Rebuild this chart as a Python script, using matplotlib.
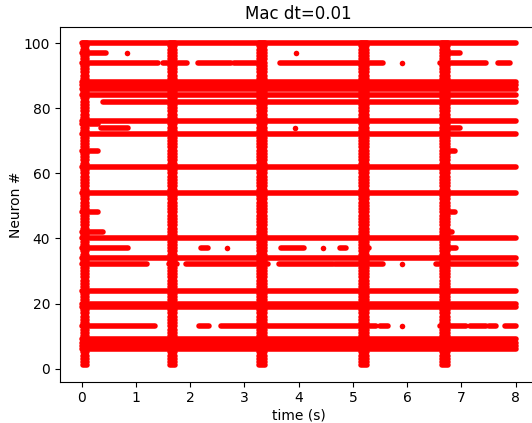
import matplotlib
matplotlib.use("Agg")
import numpy as np
from matplotlib import pyplot as plt

# neurons that fire all the way through the run (t = 0 .. 8 s)
full_rows = [100, 88, 87, 86, 84, 76, 72, 62, 54, 40, 34, 24, 20, 19, 9, 8, 7, 6]

# population bursts: every neuron 1..100 fires inside these windows (s)
burst_start = [0.03, 1.62, 3.26, 5.14, 6.65]
burst_end = [0.10, 1.72, 3.37, 5.25, 6.75]

# partial firing stretches: neuron, start (s), end (s)
seg_neuron = [97, 97,
              94, 94, 94, 94, 94, 94, 94,
              82,
              75, 74, 74,
              67, 67, 48, 48, 42, 42,
              37, 37, 37, 37, 37, 37,
              32, 32, 32, 32, 32, 32,
              13, 13, 13, 13, 13, 13, 13, 13]
seg_start = [0.0, 6.72,
             0.0, 1.5, 2.15, 2.8, 3.65, 6.6, 7.67,
             0.39,
             0.0, 0.35, 6.72,
             0.0, 6.72, 0.0, 6.72, 0.0, 6.72,
             0.0, 2.2, 3.67, 4.76, 5.2, 6.72,
             0.0, 1.92, 3.63, 4.66, 6.53, 1.6,
             0.0, 2.16, 2.56, 5.49, 6.6, 7.15, 7.5, 7.8]
seg_end = [0.45, 6.98,
           1.4, 1.95, 2.75, 3.3, 5.55, 7.45, 7.9,
           8.0,
           0.3, 0.85, 6.98,
           0.3, 6.88, 0.3, 6.88, 0.4, 6.82,
           0.85, 2.33, 4.1, 4.87, 5.3, 6.9,
           1.2, 3.43, 4.63, 5.55, 8.0, 1.75,
           1.35, 2.34, 5.42, 5.64, 7.08, 7.45, 7.63, 8.0]

# isolated single spikes
spike_neuron = [97, 97, 94, 74, 37, 37, 32, 13]
spike_time = [0.83, 3.95, 5.9, 3.94, 2.68, 4.44, 5.9, 5.9]

neurons = np.arange(1, 101)

fig = plt.figure(figsize=(5.32, 4.23), dpi=100)
ax = fig.add_axes([60 / 532, (423 - 381.5) / 423, 477.4 / 532, 354.5 / 423])

lw = 4.0
col = "#ff0000"

for n in full_rows:
    ax.plot([0, 8], [n, n], color=col, lw=lw, solid_capstyle="round")

for s, e in zip(burst_start, burst_end):
    for n in neurons:
        ax.plot([s, e], [n, n], color=col, lw=lw, solid_capstyle="round")

for n, s, e in zip(seg_neuron, seg_start, seg_end):
    ax.plot([s, e], [n, n], color=col, lw=lw, solid_capstyle="round")

ax.plot(spike_time, spike_neuron, "o", color=col, ms=lw, mew=0)

ax.set_xlim(-0.4, 8.4)
ax.set_ylim(-3.95, 104.95)
ax.set_title("Mac dt=0.01")
ax.set_xlabel("time (s)", labelpad=2)
ax.set_ylabel("Neuron #", labelpad=1)

fig.savefig("out.png", dpi=100)
